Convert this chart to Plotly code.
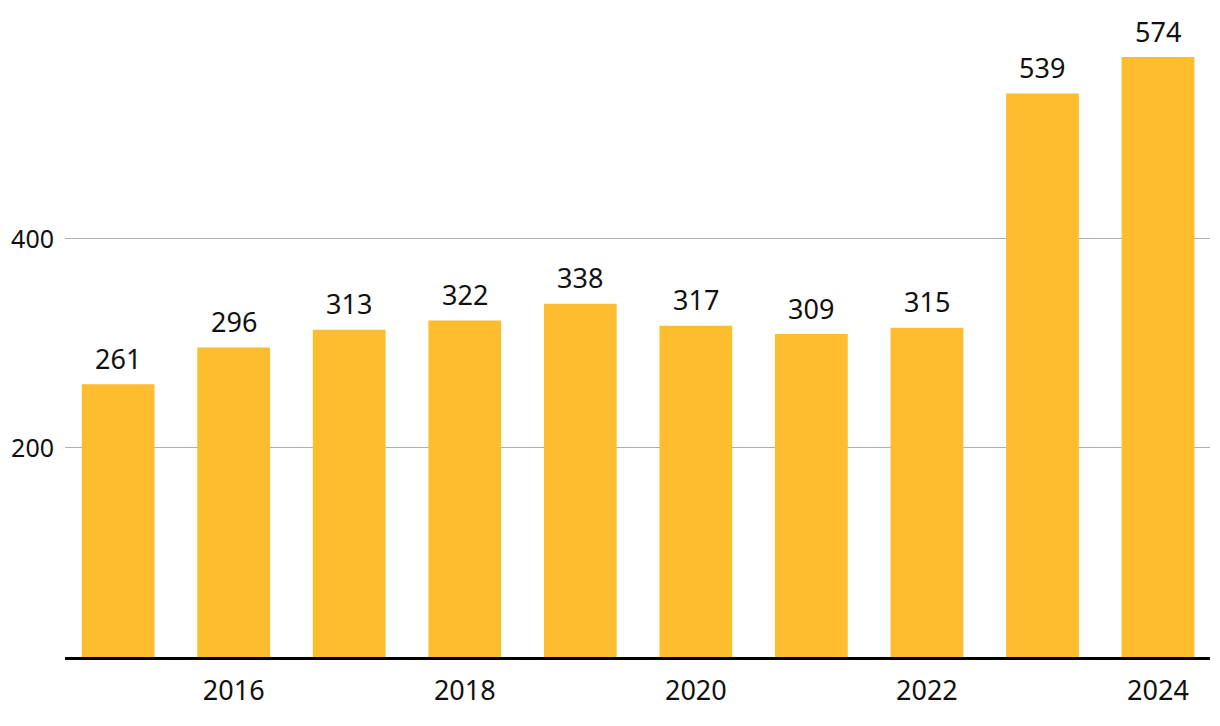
import plotly.graph_objects as go

years = [2015, 2016, 2017, 2018, 2019, 2020, 2021, 2022, 2023, 2024]
values = [261, 296, 313, 322, 338, 317, 309, 315, 539, 574]
x_ticks = [2016, 2018, 2020, 2022, 2024]
y_ticks = [200, 400]

FONT = "Noto Sans"
BAR_COLOR = "#FDBD2E"
FS = 27

fig = go.Figure()
fig.add_trace(go.Bar(
    x=years, y=values, width=0.63,
    marker=dict(color=BAR_COLOR, line=dict(width=0)),
    hoverinfo="skip",
))

for xv, yv in zip(years, values):
    fig.add_annotation(x=xv, y=yv, text=str(yv), showarrow=False,
                       yanchor="middle", yshift=26,
                       font=dict(family=FONT, size=FS, color="#111111"))

# page body has an 8px default margin; compensate so the plot lands where the reference has it
fig.update_layout(
    width=1212, height=718,
    margin=dict(l=57, r=10, t=2, b=69),
    paper_bgcolor="white", plot_bgcolor="white",
    showlegend=False,
    font=dict(family=FONT, size=FS, color="#111111"),
    xaxis=dict(range=[2014.54, 2024.45], tickvals=x_ticks,
               ticktext=[str(t) for t in x_ticks],
               showgrid=False, zeroline=False, automargin=False,
               showline=True, linecolor="black", linewidth=3,
               ticks="", ticklabelstandoff=8),
    yaxis=dict(range=[0, 619], tickvals=y_ticks, automargin=False,
               tickfont=dict(family=FONT, size=25, color="#111111"),
               showgrid=True, gridcolor="#aeaeae", gridwidth=1,
               zeroline=False, showline=False, ticks="",
               ticklabelstandoff=10),
)

fig.write_html("out.html")
